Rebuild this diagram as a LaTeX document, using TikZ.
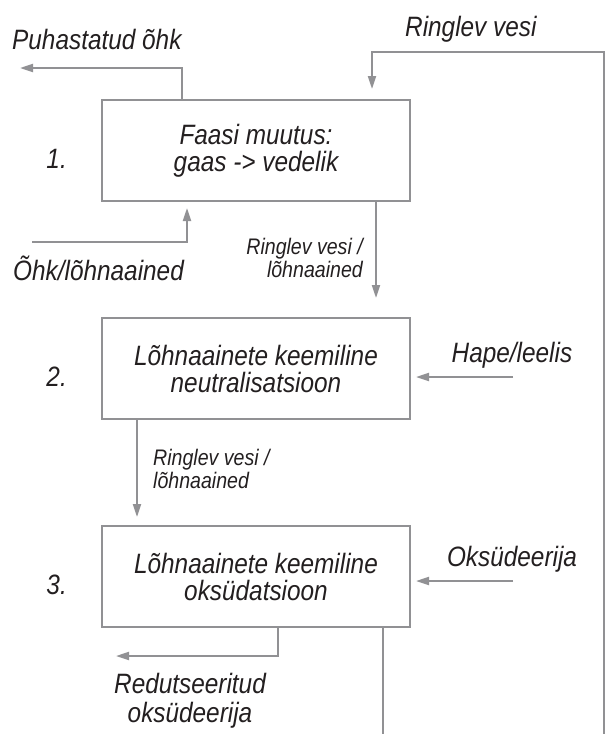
\documentclass[tikz,border=0pt]{standalone}
\usepackage{fontspec}
\setmainfont{Liberation Sans}[FakeStretch=0.87]
\usetikzlibrary{arrows.meta}
\definecolor{lngray}{RGB}{145,145,148}
\definecolor{txcol}{RGB}{35,31,32}
\begin{document}
\begin{tikzpicture}[x=1pt,y=-1pt,
  box/.style={draw=lngray, line width=2pt, minimum width=308pt, minimum height=101pt, inner sep=0pt, align=center, font=\fontsize{28}{27}\selectfont\itshape, text=txcol},
  wire/.style={draw=lngray, line width=2pt},
  arr/.style={wire, -{Triangle[length=13pt,width=8pt]}},
  big/.style={font=\fontsize{28}{29}\selectfont\itshape, text=txcol, inner sep=0pt},
  small/.style={font=\fontsize{22.5}{23}\selectfont\itshape, text=txcol, inner sep=0pt},
]
\useasboundingbox (0,0) rectangle (607,734);

% boxes
\node[box] (b1) at (256,150.5) {Faasi muutus:\\gaas -> vedelik};
\node[box] (b2) at (256,368.5) {Lõhnaainete keemiline\\neutralisatsioon};
\node[box] (b3) at (256,576.5) {Lõhnaainete keemiline\\oksüdatsioon};

% step numbers
\node[big, anchor=base east] (n1) at (67,168) {1.};
\node[big, anchor=base east] (n2) at (67,386) {2.};
\node[big, anchor=base east] (n3) at (67,594) {3.};

% labels
\node[big, anchor=base west] (tPu) at (12,49) {Puhastatud õhk};
\node[big, anchor=base west] (tRv) at (405,36) {Ringlev vesi};
\node[big, anchor=base west] (tOh) at (13,280) {Õhk/lõhnaained};
\node[small, align=right, anchor=east] (tR1) at (363,258) {Ringlev vesi /\\lõhnaained};
\node[small, align=left, anchor=west] (tR2) at (153,469) {Ringlev vesi /\\lõhnaained};
\node[big, anchor=base] (tHa) at (512,362) {Hape/leelis};
\node[big, anchor=base] (tOk) at (512,566) {Oksüdeerija};
\node[big, align=center, anchor=north] (tRe) at (190,673) {Redutseeritud\\oksüdeerija};

% coordinates
\coordinate (puC) at (182,68);
\coordinate (puT) at (20,68);
\coordinate (lpA) at (383,734);
\coordinate (lpB) at (604,734);
\coordinate (lpC) at (604,52);
\coordinate (lpD) at (372,52);
\coordinate (lpT) at (372,89);
\coordinate (ohS) at (32,242);
\coordinate (ohC) at (187,242);
\coordinate (ohT) at (187,208);
\coordinate (t12) at (376,298);
\coordinate (t23) at (137,517);
\coordinate (haS) at (513,377);
\coordinate (haT) at (416,377);
\coordinate (okS) at (513,581);
\coordinate (okT) at (416,581);
\coordinate (reC) at (278,656);
\coordinate (reT) at (116,656);

% connectors
\draw[arr] (puC |- b1.north) -- (puC) -- (puT);
\draw[wire] (lpA |- b3.south) -- (lpA);
\draw[arr] (lpB) -- (lpC) -- (lpD) -- (lpT);
\draw[arr] (ohS) -- (ohC) -- (ohT);
\draw[arr] (t12 |- b1.south) -- (t12);
\draw[arr] (t23 |- b2.south) -- (t23);
\draw[arr] (haS) -- (haT);
\draw[arr] (okS) -- (okT);
\draw[arr] (reC |- b3.south) -- (reC) -- (reT);
\end{tikzpicture}
\end{document}
